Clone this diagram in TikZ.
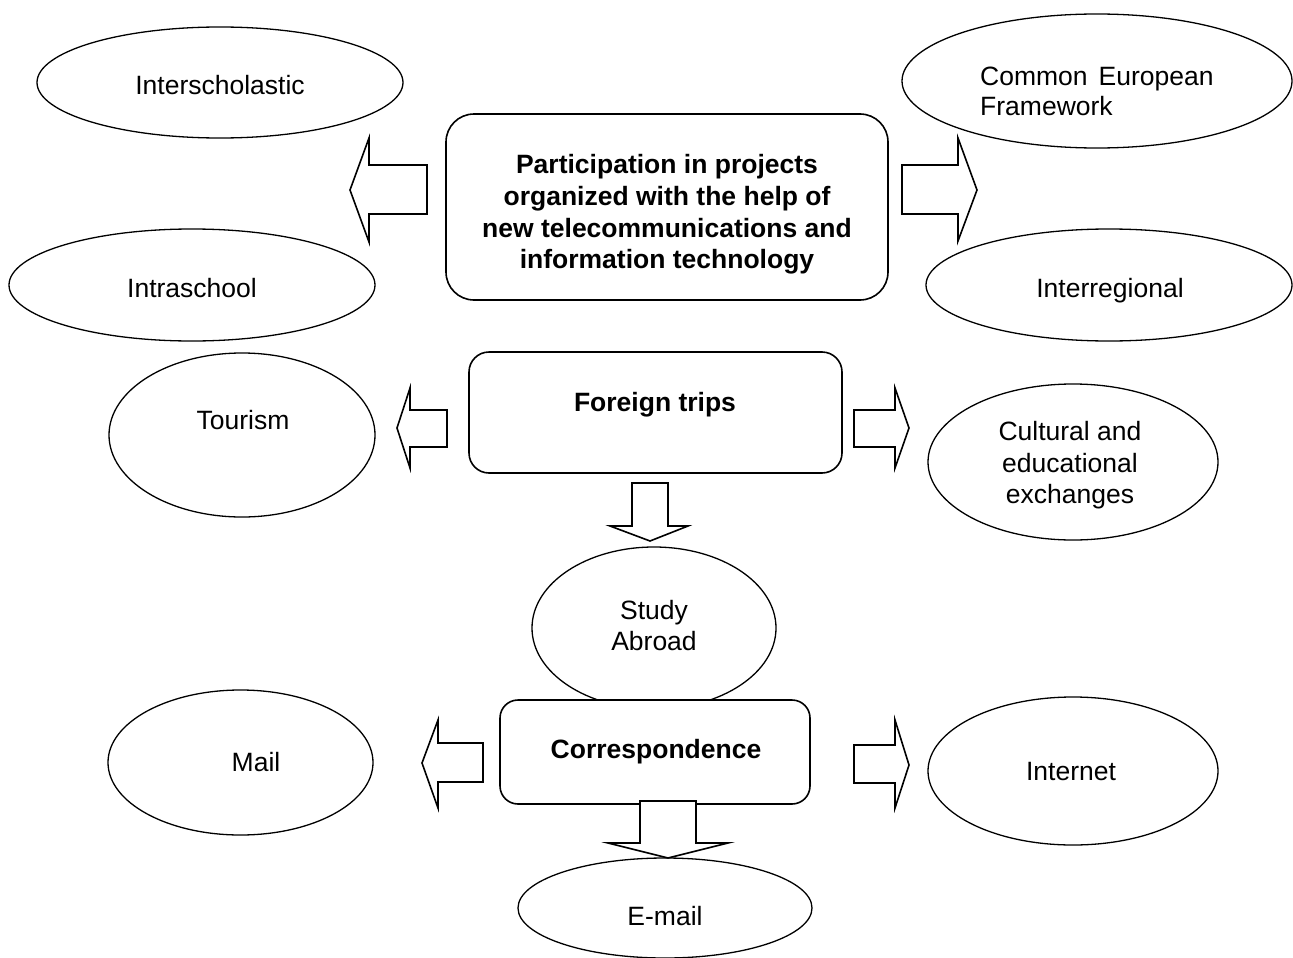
\documentclass[tikz,border=0pt]{standalone}
\usepackage{fontspec}
\setmainfont{Liberation Sans}
\usetikzlibrary{shapes.geometric}
\begin{document}
\begin{tikzpicture}[x=1pt,y=-1pt,
  ell/.style={draw,ellipse,line width=1.3pt,inner sep=0pt,fill=white},
  rbox/.style={draw,line width=1.6pt,inner sep=0pt,fill=white},
  barrow/.style={draw,line width=1.6pt,fill=white,line join=miter},
  txt/.style={inner sep=0pt,anchor=base,font=\fontsize{26.5pt}{31.7pt}\selectfont},
  btxt/.style={txt,font=\fontsize{26.5pt}{31.7pt}\selectfont\bfseries}]
\useasboundingbox (0,0) rectangle (1293,958);

% ellipses
\node[ell,minimum width=366pt,minimum height=111pt] (inter) at (220,82.5) {};
\node[ell,minimum width=390pt,minimum height=134pt] (cef) at (1097,81) {};
\node[ell,minimum width=366pt,minimum height=112pt] (intra) at (192,285) {};
\node[ell,minimum width=366pt,minimum height=112pt] (interreg) at (1109,285) {};
\node[ell,minimum width=266pt,minimum height=164pt] (tour) at (242,435) {};
\node[ell,minimum width=290pt,minimum height=156pt] (cult) at (1073,462) {};
\node[ell,minimum width=244pt,minimum height=162pt] (study) at (654,628) {};
\node[ell,minimum width=265pt,minimum height=145pt] (mail) at (240.5,762.5) {};
\node[ell,minimum width=290pt,minimum height=148pt] (inet) at (1073,771) {};
\node[ell,minimum width=294pt,minimum height=100pt] (email) at (665,908) {};

% boxes
\node[rbox,rounded corners=28pt,minimum width=442pt,minimum height=186pt] (part) at (667,207) {};
\node[rbox,rounded corners=20pt,minimum width=373pt,minimum height=121pt] (trips) at (655.5,412.5) {};
\node[rbox,rounded corners=18pt,minimum width=310pt,minimum height=104pt] (corr) at (655,752) {};

% block arrows
\draw[barrow] (427,165) -- (369,165) -- (369,138) -- (350,190) -- (369,242) -- (369,214) -- (427,214) -- cycle;
\draw[barrow] (902,165) -- (958,165) -- (958,138) -- (977,190) -- (958,241) -- (958,214) -- (902,214) -- cycle;
\draw[barrow] (447,410) -- (410,410) -- (410,388) -- (397,428) -- (410,468) -- (410,447) -- (447,447) -- cycle;
\draw[barrow] (854,410) -- (895,410) -- (895,388) -- (909,428) -- (895,468) -- (895,447) -- (854,447) -- cycle;
\draw[barrow] (632,483) -- (668,483) -- (668,526) -- (688,526) -- (650,541) -- (610,526) -- (632,526) -- cycle;
\draw[barrow] (483,743) -- (438,743) -- (438,720) -- (422,763) -- (438,808) -- (438,782) -- (483,782) -- cycle;
\draw[barrow] (854,745) -- (895,745) -- (895,720) -- (909,765) -- (895,808) -- (895,783) -- (854,783) -- cycle;
\draw[barrow] (640,801) -- (696,801) -- (696,843) -- (728,843) -- (668,858) -- (608,843) -- (640,843) -- cycle;

% texts
\node[txt] (tinter) at (220,94) {Interscholastic};
\node[txt,anchor=base west] (tcef1) at (980,85) {Common\hskip 11pt European};
\node[txt,anchor=base west] (tcef2) at (980,115) {Framework};
\node[txt] (tintra) at (192,297) {Intraschool};
\node[txt] (tinterreg) at (1110,297) {Interregional};
\node[btxt] (tp1) at (667,173) {Participation in projects};
\node[btxt] (tp2) at (667,205) {organized with the help of};
\node[btxt] (tp3) at (667,237) {new telecommunications and};
\node[btxt] (tp4) at (667,268) {information technology};
\node[txt] (ttour) at (243,429) {Tourism};
\node[btxt] (ttrips) at (655,411) {Foreign trips};
\node[txt] (tcult1) at (1070,440) {Cultural and};
\node[txt] (tcult2) at (1070,472) {educational};
\node[txt] (tcult3) at (1070,503) {exchanges};
\node[txt] (tstudy1) at (654,619) {Study};
\node[txt] (tstudy2) at (654,650) {Abroad};
\node[txt] (tmail) at (256,771) {Mail};
\node[btxt] (tcorr) at (656,758) {Correspondence};
\node[txt] (tinet) at (1071,780) {Internet};
\node[txt] (temail) at (665,925) {E-mail};
\end{tikzpicture}
\end{document}
